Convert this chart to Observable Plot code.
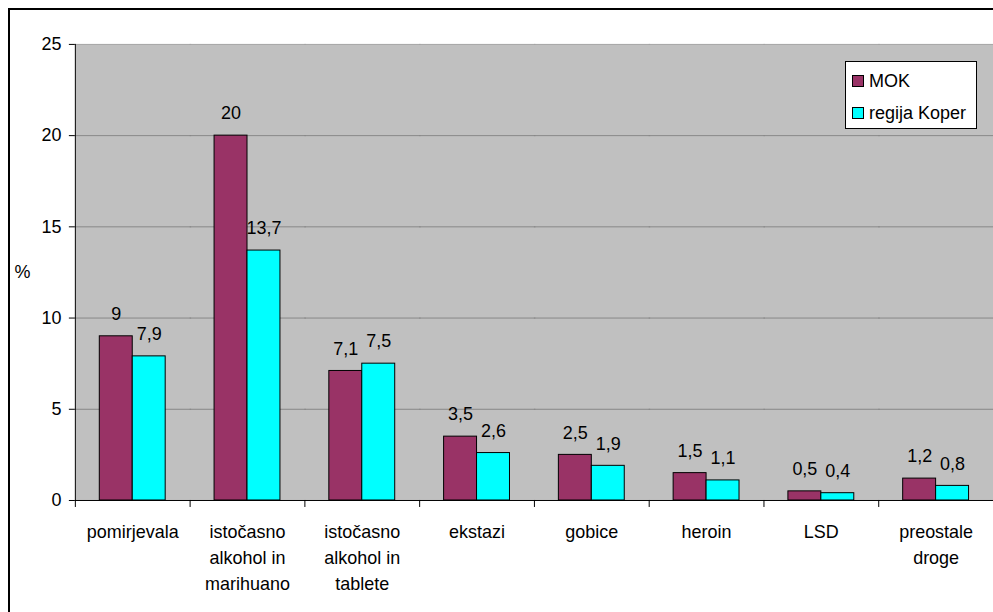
<!DOCTYPE html>
<html>
<head>
<meta charset="utf-8">
<script src="https://cdn.jsdelivr.net/npm/d3@7"></script>
<script src="https://cdn.jsdelivr.net/npm/@observablehq/plot@0.6"></script>
<style>
  html, body { margin: 0; padding: 0; overflow: hidden; background: #fff; }
  #wrap { position: relative; width: 993px; height: 612px; overflow: hidden; font-family: "Liberation Sans", Arial, sans-serif; }
  #border { position: absolute; left: 8px; top: 8px; width: 1200px; height: 800px; border: 2px solid #000; }
  #chart { position: absolute; left: 0; top: 0; }
  #legend { position: absolute; left: 845px; top: 61px; width: 130px; height: 66px; background: #fff; border: 1px solid #000; font-size: 18px; color: #000; }
  .sw { position: absolute; left: 6px; width: 10px; height: 10px; border: 1px solid #000; }
  .lt { position: absolute; left: 23px; line-height: 20px; white-space: nowrap; }
</style>
</head>
<body>
<div id="wrap">
  <div id="border"></div>
  <div id="chart"></div>
  <div id="legend"></div>
</div>
<script>
const categories = ["pomirjevala", "istočasno alkohol in marihuano", "istočasno alkohol in tablete", "ekstazi", "gobice", "heroin", "LSD", "preostale droge"];
const tickLabels = ["pomirjevala", "istočasno\nalkohol in\nmarihuano", "istočasno\nalkohol in\ntablete", "ekstazi", "gobice", "heroin", "LSD", "preostale\ndroge"];
const seriesNames = ["MOK", "regija Koper"];
const mok = [9, 20, 7.1, 3.5, 2.5, 1.5, 0.5, 1.2];
const koper = [7.9, 13.7, 7.5, 2.6, 1.9, 1.1, 0.4, 0.8];
const yTicks = [0, 5, 10, 15, 20, 25];
const colors = ["#993366", "#00FFFF"];

const rows = [];
categories.forEach((c, i) => {
  rows.push({category: c, series: seriesNames[0], value: mok[i]});
  rows.push({category: c, series: seriesNames[1], value: koper[i]});
});
const fmt = v => String(v).replace(".", ",");

const chart = Plot.plot({
  width: 995,
  height: 612,
  marginLeft: 75,
  marginRight: 0,
  marginTop: 44,
  marginBottom: 111,
  style: {fontFamily: "'Liberation Sans', Arial, sans-serif", fontSize: "18px", color: "#000", background: "transparent", overflow: "visible"},
  fx: {domain: categories, padding: 0, round: false},
  x: {domain: seriesNames, paddingInner: 0, paddingOuter: 0.742, round: false, axis: null},
  y: {domain: [0, 25], ticks: yTicks},
  color: {domain: seriesNames, range: colors},
  marks: [
    Plot.frame({fill: "#c0c0c0", stroke: null, facet: "super"}),
    Plot.ruleY([5, 10, 15, 20], {stroke: "#888888", strokeWidth: 1, insetRight: -1.5}),
    Plot.ruleY([25], {stroke: "#a4a4a4", strokeWidth: 1, insetRight: -1.5}),
    Plot.barY(rows, {fx: "category", x: "series", y: "value", fill: "series", stroke: "#000", strokeWidth: 1}),
    Plot.text(rows, {fx: "category", x: "series", y: "value", text: d => fmt(d.value), dy: -22, fontSize: 18, fill: "#000"}),
    Plot.ruleY([0], {stroke: "#000", strokeWidth: 1, insetRight: -1.5}),
    Plot.frame({anchor: "left", facet: "super", stroke: "#000", strokeWidth: 1}),
    Plot.frame({anchor: "left", insetTop: 457, insetBottom: -6, stroke: "#000", strokeWidth: 1}),
    Plot.axisY({ticks: yTicks, tickSize: 6, tickPadding: 8, label: null, fontSize: 18, stroke: "#000"}),
    Plot.axisFx({anchor: "bottom", tickSize: 0, tickPadding: 19, lineHeight: 1.44, label: null, fontSize: 18,
      tickFormat: d => tickLabels[categories.indexOf(d)]}),
    Plot.text(["%"], {frameAnchor: "left", facetAnchor: "left", textAnchor: "start", dx: -61, fontSize: 18, fill: "#000"})
  ]
});
document.getElementById("chart").appendChild(chart);

const legend = document.getElementById("legend");
seriesNames.forEach((s, i) => {
  const sw = document.createElement("div");
  sw.className = "sw";
  sw.style.top = (13 + i * 32) + "px";
  sw.style.background = colors[i];
  legend.appendChild(sw);
  const t = document.createElement("div");
  t.className = "lt";
  t.style.top = (9 + i * 32) + "px";
  t.textContent = s;
  legend.appendChild(t);
});
</script>
</body>
</html>
